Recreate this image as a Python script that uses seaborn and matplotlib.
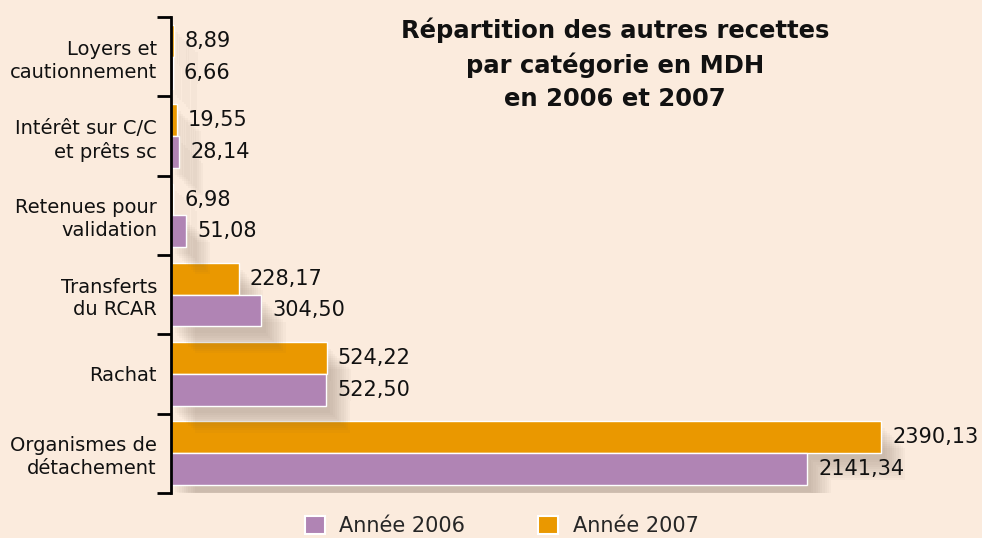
import numpy as np
import pandas as pd
import matplotlib
matplotlib.use('Agg')
import matplotlib.pyplot as plt
import matplotlib.patheffects as pe
import seaborn as sns

# données (MDH)
categories = ["Loyers et\ncautionnement", "Intérêt sur C/C\net prêts sc",
              "Retenues pour\nvalidation", "Transferts\ndu RCAR", "Rachat",
              "Organismes de\ndétachement"]
v2006 = [6.66, 28.14, 51.08, 304.50, 522.50, 2141.34]
v2007 = [8.89, 19.55, 6.98, 228.17, 524.22, 2390.13]
series = ["Année 2006", "Année 2007"]
colors = {"Année 2006": "#B084B4", "Année 2007": "#EA9800"}

bg = "#FBEBDD"

df = pd.DataFrame({
    "categorie": categories * 2,
    "valeur": v2007 + v2006,
    "annee": ["Année 2007"] * len(categories) + ["Année 2006"] * len(categories),
})

sns.set_theme(style="white")
plt.rcParams['font.family'] = ['DejaVu Sans']

fig = plt.figure(figsize=(9.82, 5.38), dpi=100, facecolor=bg)
ax = fig.add_axes([0.174, 0.084, 0.826, 0.884])
ax.set_facecolor(bg)

sns.barplot(data=df, y="categorie", x="valeur", hue="annee",
            hue_order=["Année 2007", "Année 2006"], palette=colors,
            order=categories, orient="h", width=0.8, ax=ax, saturation=1,
            edgecolor="white", linewidth=1.0, legend=False)

# ombre portée floue
shadow = [pe.SimplePatchShadow(offset=(3 + 1.6 * k, -5 - 1.6 * k), shadow_rgbFace="#6b5a4a", alpha=0.035)
          for k in range(10)]
for cont in ax.containers:
    for bar in cont:
        bar.set_path_effects(shadow + [pe.Normal()])
        bar.set_zorder(3)

for cont in ax.containers:
    labels = [f"{b.get_width():.2f}".replace(".", ",") for b in cont]
    ax.bar_label(cont, labels=labels, padding=8, fontsize=15, color="#111111")

ax.set_xlim(0, 2730)
ax.set_ylim(5.5, -0.5)
ax.set_xlabel("")
ax.set_ylabel("")
ax.set_xticks([])
ax.set_yticks(range(len(categories)))
ax.set_yticklabels(categories, fontsize=14, color="#111111", linespacing=1.25)
ax.set_yticks(np.arange(-0.5, len(categories), 1), minor=True)
ax.tick_params(axis="y", which="major", length=0, pad=10)
ax.tick_params(axis="y", which="minor", length=10, width=2, color="black", direction="out", left=True)
for s in ["top", "right", "bottom"]:
    ax.spines[s].set_visible(False)
ax.spines["left"].set_linewidth(2)
ax.spines["left"].set_color("black")
ax.spines["left"].set_zorder(5)

fig.text(0.626, 0.968, "Répartition des autres recettes\npar catégorie en MDH\nen 2006 et 2007",
         ha="center", va="top", fontsize=17.5, fontweight="bold", linespacing=1.48, color="#111111")

handles = [plt.Rectangle((0, 0), 1, 1, facecolor=colors[s], edgecolor="white", linewidth=1.5) for s in series]
fig.legend(handles, series, loc="lower center", bbox_to_anchor=(0.511, -0.031), ncol=2,
           frameon=False, fontsize=15, columnspacing=3.5, handlelength=0.95, handleheight=0.95,
           handletextpad=0.7)

fig.savefig("out.png", dpi=100, facecolor=bg)
